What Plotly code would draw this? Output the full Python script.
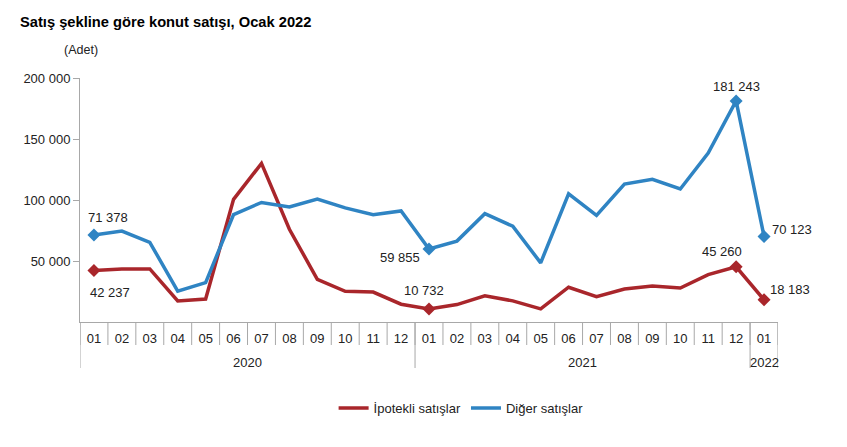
import plotly.graph_objects as go

years = ["2020"] * 12 + ["2021"] * 12 + ["2022"]
months = ["01", "02", "03", "04", "05", "06", "07", "08", "09", "10", "11", "12"] * 2 + ["01"]
year_labels = ["2020", "2021", "2022"]

ipotekli = [42237, 43500, 43500, 17200, 18800, 100500, 130000, 76000, 35000, 25200, 24500, 14600,
            10732, 14300, 21500, 17300, 10800, 28500, 20800, 27000, 29500, 27800, 38800, 45260,
            18183]
diger = [71378, 74500, 65300, 25300, 32300, 88000, 98000, 94300, 100800, 93500, 88000, 91000,
         59855, 66300, 88800, 78500, 48500, 105000, 87300, 113000, 117000, 109000, 138500, 181243,
         70123]

periods = [f"{y}-{m}" for y, m in zip(years, months)]

red = "#A9262B"
blue = "#2F84C3"
grid = "#A8A8A8"
label_idx = [0, 12, 23, 24]

fig = go.Figure()
fig.add_trace(go.Scatter(
    x=periods, y=ipotekli, name="İpotekli satışlar", mode="lines",
    line=dict(color=red, width=3.5)))
fig.add_trace(go.Scatter(
    x=periods, y=diger, name="Diğer satışlar", mode="lines",
    line=dict(color=blue, width=3.5)))
fig.add_trace(go.Scatter(
    x=[periods[i] for i in label_idx], y=[ipotekli[i] for i in label_idx], mode="markers",
    marker=dict(symbol="diamond", size=10, color=red), showlegend=False, hoverinfo="skip"))
fig.add_trace(go.Scatter(
    x=[periods[i] for i in label_idx], y=[diger[i] for i in label_idx], mode="markers",
    marker=dict(symbol="diamond", size=10, color=blue), showlegend=False, hoverinfo="skip"))


def fmt(v):
    return f"{v:,}".replace(",", " ")


offsets = [
    (diger, 0, 14, 17), (ipotekli, 0, 16, -22),
    (diger, 12, -29, -9), (ipotekli, 12, -5, 18),
    (diger, 23, 0, 14), (ipotekli, 23, -14, 15),
    (diger, 24, 28, 7), (ipotekli, 24, 26, 10),
]
for ser, i, xs, ys in offsets:
    fig.add_annotation(x=i, y=ser[i], xref="x", yref="y", text=fmt(ser[i]),
                       showarrow=False, xshift=xs, yshift=ys,
                       font=dict(size=13, color="#222"))

# month boundary ticks and year dividers
n = len(periods)
for b in range(n + 1):
    fig.add_shape(type="line", xref="x", yref="paper", x0=b - 0.5, x1=b - 0.5,
                  y0=0, y1=-23 / 244, line=dict(color=grid, width=1))
group_starts = [i for i in range(n) if i == 0 or years[i] != years[i - 1]] + [n]
for b in group_starts:
    fig.add_shape(type="line", xref="x", yref="paper", x0=b - 0.5, x1=b - 0.5,
                  y0=0, y1=-46 / 244, line=dict(color=grid, width=1))
for k, y in enumerate(year_labels):
    s, e = group_starts[k], group_starts[k + 1] - 1
    fig.add_annotation(x=(s + e) / 2, y=-40 / 244, xref="x", yref="paper", text=y,
                       showarrow=False, yanchor="middle", font=dict(size=13, color="#222"))

fig.update_layout(
    width=847, height=447,
    margin=dict(l=80, r=69, t=78, b=125),
    paper_bgcolor="white", plot_bgcolor="white",
    font=dict(family="Liberation Sans, Arial, sans-serif", size=13, color="#222"),
    separators=". ",
    title=dict(text="<b>Satış şekline göre konut satışı, Ocak 2022</b>",
               x=20 / 847, xanchor="left", y=1 - 22 / 447, yanchor="middle",
               font=dict(size=14.7, color="#000")),
    legend=dict(orientation="h", x=0.546, xanchor="center", y=-86 / 244, yanchor="middle",
                font=dict(size=13, color="#222")),
    showlegend=True,
)
fig.add_annotation(x=(62 - 80) / 698, y=(322 - 50) / 244, xref="paper", yref="paper",
                   xanchor="left", yanchor="middle", text="(Adet)", showarrow=False,
                   font=dict(size=12.5, color="#222"))

fig.update_yaxes(range=[0, 200000], tickvals=[50000, 100000, 150000, 200000],
                 tickformat=",d", showgrid=False, zeroline=False, showline=True,
                 linecolor=grid, linewidth=1, ticks="outside", ticklen=6, tickcolor=grid,
                 tickfont=dict(size=13, color="#222"))
fig.update_xaxes(type="category", range=[-0.5, n - 0.5], tickvals=periods, ticktext=months,
                 showgrid=False, showline=True, linecolor=grid, linewidth=1, ticks="",
                 ticklabelstandoff=4, tickfont=dict(size=13, color="#222"))

fig.write_html("out.html")
